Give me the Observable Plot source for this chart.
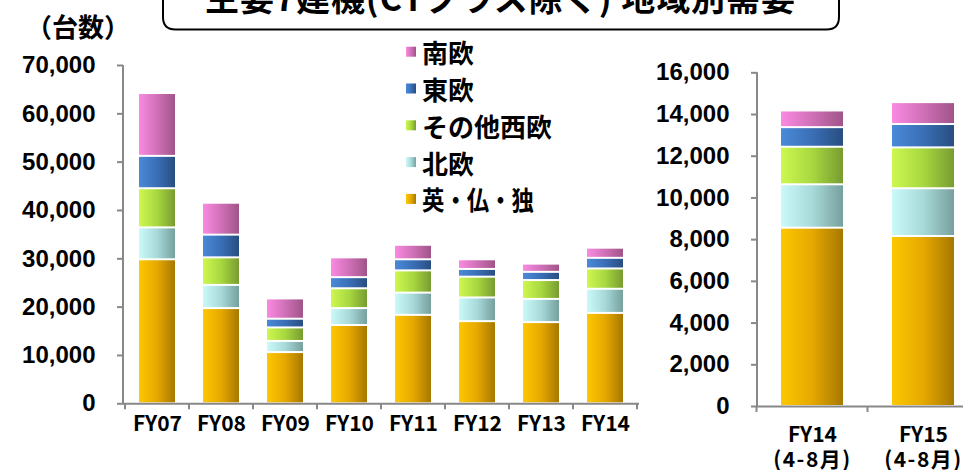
<!DOCTYPE html>
<html>
<head>
<meta charset="utf-8">
<script src="https://cdn.jsdelivr.net/npm/d3@7"></script>
<script src="https://cdn.jsdelivr.net/npm/@observablehq/plot@0.6"></script>
<style>
  body { margin: 0; background: #fff; }
  #wrap { position: relative; width: 963px; height: 470px; overflow: hidden; background: #fff; }
  #wrap > svg { position: absolute; top: 0; }
</style>
</head>
<body>
<div id="wrap"></div>
<script>
// ---------- data ----------
const regions = ["英・仏・独", "北欧", "その他西欧", "東欧", "南欧"];
const legendOrder = ["南欧", "東欧", "その他西欧", "北欧", "英・仏・独"];

const years = ["FY07", "FY08", "FY09", "FY10", "FY11", "FY12", "FY13", "FY14"];
const ukFrDe    = [29800, 19700, 10600, 16200, 18300, 17000, 16800, 18700];
const nordic    = [ 6600,  4800,  2300,  3500,  4600,  4900,  4800,  5000];
const otherWest = [ 8100,  5700,  2800,  4100,  4600,  4300,  3900,  4200];
const eastEu    = [ 6700,  4700,  1800,  2300,  2300,  1600,  1700,  2200];
const southEu   = [13000,  6600,  4200,  4100,  3000,  2000,  1700,  2100];

const periods = ["FY14(4-8月)", "FY15(4-8月)"];
const periodLabels = ["FY14\n(4-8月)", "FY15\n(4-8月)"];
const ukFrDeH    = [8550, 8150];
const nordicH    = [2080, 2290];
const otherWestH = [1800, 1960];
const eastEuH    = [ 940, 1120];
const southEuH   = [ 800, 1050];

const yTicksLeft  = [0, 10000, 20000, 30000, 40000, 50000, 60000, 70000];
const yTicksRight = [0, 2000, 4000, 6000, 8000, 10000, 12000, 14000, 16000];

const titleText = "主要7建機(CTクラス除く) 地域別需要";
const unitText = "（台数）";

// ---------- styling ----------
const gradients = {
  "英・仏・独": ["#fcc800", "#e6a800", "#a67800"],
  "北欧":       ["#ccf9f9", "#a8dada", "#76a09e"],
  "その他西欧": ["#cdf850", "#a8d840", "#789c30"],
  "東欧":       ["#4a8ad8", "#3a6fb6", "#284e80"],
  "南欧":       ["#fa8ae2", "#d070b8", "#a05488"]
};
const gradId = r => "grad" + regions.indexOf(r);
const fillRange = regions.map(r => `url(#${gradId(r)})`);

const wrap = d3.select("#wrap");

// gradient definitions
const defsSvg = wrap.append("svg").attr("width", 0).attr("height", 0).style("position", "absolute");
const defs = defsSvg.append("defs");
regions.forEach(r => {
  const g = defs.append("linearGradient").attr("id", gradId(r)).attr("x1", 0).attr("x2", 1).attr("y1", 0).attr("y2", 0);
  gradients[r].forEach((c, i, a) => g.append("stop").attr("offset", i / (a.length - 1)).attr("stop-color", c));
});

function rows(cats, series) {
  const out = [];
  cats.forEach((c, i) => {
    regions.forEach((r, k) => out.push({cat: c, region: r, value: series[k][i]}));
  });
  return out;
}

function makeChart({cats, data, yMax, yTicks, width, height, mL, mR, mT, mB, tickFormatX, tickPadX, lineHeight}) {
  const chart = Plot.plot({
    width, height,
    marginLeft: mL, marginRight: mR, marginTop: mT, marginBottom: mB,
    style: {fontFamily: "'Liberation Sans', Arial, sans-serif", background: "transparent", color: "#000"},
    x: {domain: cats, paddingInner: 0.44, paddingOuter: 0.22, label: null},
    y: {domain: [0, yMax], label: null},
    color: {domain: regions, range: fillRange},
    marks: [
      Plot.barY(data, {x: "cat", y: "value", fill: "region", insetTop: 1, insetBottom: 1}),
      Plot.ruleY([0], {stroke: "#888", strokeWidth: 2}),
      Plot.axisY({ticks: yTicks, tickSize: 6, tickPadding: 22, stroke: "#888", strokeWidth: 2,
                  fill: "#000", fontSize: 24, fontWeight: "bold", tickFormat: d3.format(","),
                  fontFamily: "'Liberation Sans', Arial, sans-serif", label: null}),
      Plot.axisX({tickSize: 0, tickPadding: tickPadX, fontSize: 21, fontWeight: "bold",
                  fontFamily: "'Noto Sans CJK JP', sans-serif", lineHeight,
                  tickFormat: tickFormatX, label: null, fill: "#000"})
    ]
  });
  // axis line and category boundary ticks from the scales
  const x = chart.scale("x"), y = chart.scale("y");
  const n = x.domain.length;
  const step = x.step ?? (x.range[1] - x.range[0]) / n;
  const bw = x.bandwidth;
  const g = d3.select(chart).append("g").attr("stroke", "#888").attr("stroke-width", 2);
  const yTop = y.apply(yMax), yBot = y.apply(0);
  g.append("line").attr("x1", mL).attr("x2", mL).attr("y1", yTop).attr("y2", yBot + 1);
  const bounds = x.domain.map(d => x.apply(d) - (step - bw) / 2);
  bounds.push(x.apply(x.domain[n - 1]) + bw + (step - bw) / 2);
  bounds.forEach(b => g.append("line").attr("x1", b).attr("x2", b).attr("y1", yBot).attr("y2", yBot + 6));
  return chart;
}

const left = makeChart({
  cats: years, data: rows(years, [ukFrDe, nordic, otherWest, eastEu, southEu]),
  yMax: 70000, yTicks: yTicksLeft, width: 660, height: 470,
  mL: 123, mR: 21, mT: 65, mB: 66.7, tickFormatX: d => d, tickPadX: 12, lineHeight: 1
});
left.style.left = "0px";
wrap.node().appendChild(left);

const right = makeChart({
  cats: periods, data: rows(periods, [ukFrDeH, nordicH, otherWestH, eastEuH, southEuH]),
  yMax: 16000, yTicks: yTicksRight, width: 345, height: 470,
  mL: 117, mR: 6, mT: 72.3, mB: 64, tickFormatX: d => periodLabels[periods.indexOf(d)], tickPadX: 17, lineHeight: 1.22
});
right.style.left = "640px";
wrap.node().appendChild(right);
// slightly spaced second line of the period labels
d3.select(right).selectAll("text tspan").filter(function() { return this.textContent.startsWith("("); })
  .attr("letter-spacing", 1.5);

// ---------- overlay: title, unit, legend ----------
const ov = wrap.append("svg").attr("width", 963).attr("height", 470).style("left", "0px")
  .style("pointer-events", "none");

ov.append("path")
  .attr("d", "M163,-5 L163,17 Q163,29.5 175.5,29.5 L826.5,29.5 Q839,29.5 839,17 L839,-5")
  .attr("fill", "none").attr("stroke", "#000").attr("stroke-width", 2);
ov.append("text").attr("x", 205).attr("y", 10.5)
  .attr("textLength", 590).attr("lengthAdjust", "spacing")
  .attr("font-family", "'Noto Sans CJK JP', sans-serif").attr("font-weight", "bold").attr("font-size", 34)
  .text(titleText);

ov.append("text").attr("x", 78).attr("y", 25).attr("text-anchor", "middle").attr("dominant-baseline", "central")
  .attr("font-family", "'Noto Sans CJK JP', sans-serif").attr("font-weight", "bold").attr("font-size", 26)
  .text(unitText);

const lg = ov.append("g");
legendOrder.forEach((r, i) => {
  const cy = 51.7 + i * 36.8;
  lg.append("rect").attr("x", 406).attr("y", cy - 5).attr("width", 10).attr("height", 10)
    .attr("fill", `url(#${gradId(r)})`);
  lg.append("text").attr("x", 422).attr("y", cy).attr("dominant-baseline", "central")
    .attr("font-family", "'Noto Sans CJK JP', sans-serif").attr("font-weight", "bold").attr("font-size", 26)
    .attr("textLength", r.includes("・") ? 112 : null).attr("lengthAdjust", "spacingAndGlyphs")
    .text(r);
});
</script>
</body>
</html>
